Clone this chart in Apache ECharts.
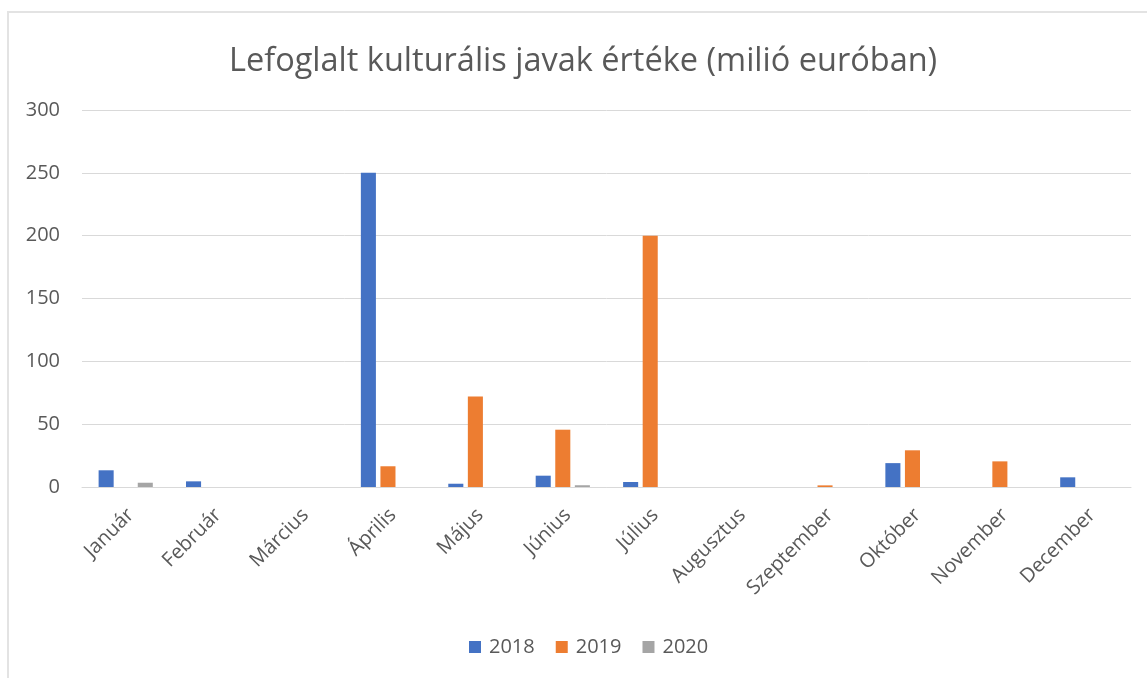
<!DOCTYPE html>
<html>
<head>
<meta charset="utf-8">
<script src="https://cdn.jsdelivr.net/npm/echarts@6/dist/echarts.min.js"></script>
<style>
  html, body { margin: 0; padding: 0; background: #ffffff; }
  #frame {
    position: absolute; left: 7px; top: 11px; width: 1150px; height: 680px;
    border-left: 2px solid #e3e3e3; border-top: 2px solid #e3e3e3;
  }
  #chart { position: absolute; left: 0; top: 0; width: 1147px; height: 678px; }
</style>
</head>
<body>
<div id="frame"></div>
<div id="chart"></div>
<script>
// Months shown on the category axis
const months = ['Január', 'Február', 'Március', 'Április', 'Május', 'Június',
  'Július', 'Augusztus', 'Szeptember', 'Október', 'November', 'December'];

// Seized cultural goods, million euros, per month
const values2018 = [13.3, 4.5, 0, 250, 2.6, 9, 4, 0, 0, 19, 0, 7.7];
const values2019 = [0, 0, 0, 16.5, 72, 45.6, 200, 0, 1.3, 29.2, 20.4, 0];
const values2020 = [3.4, 0, 0, 0, 0, 1.4, 0, 0, 0, 0, 0, 0];

const yTicks = { min: 0, max: 300, step: 50 };

const textColor = '#595959';
const fontFamily = '"Open Sans", "Noto Sans", sans-serif';

const chart = echarts.init(document.getElementById('chart'));

function barSeries(name, data, color) {
  return {
    name: name,
    type: 'bar',
    data: data.map(v => (v === 0 ? null : v)),
    itemStyle: { color: color },
    barGap: '30%',
    barCategoryGap: '38%'
  };
}

chart.setOption({
  animation: false,
  textStyle: { fontFamily: fontFamily },
  title: {
    text: 'Lefoglalt kulturális javak értéke (milió euróban)',
    left: 224,
    top: 40,
    textStyle: { color: textColor, fontSize: 32.5, fontWeight: 'normal', fontFamily: fontFamily }
  },
  legend: {
    bottom: 16,
    left: 464,
    itemWidth: 12,
    itemHeight: 12,
    itemGap: 21,
    icon: 'rect',
    textStyle: { color: textColor, fontSize: 20, fontFamily: fontFamily, padding: [0, 0, 0, 3] },
    data: ['2018', '2019', '2020']
  },
  grid: { left: 82, right: 16, top: 110, bottom: 191, containLabel: false },
  xAxis: {
    type: 'category',
    data: months,
    axisLine: { lineStyle: { color: '#d9d9d9', width: 1 } },
    axisTick: { show: false },
    axisLabel: {
      rotate: 45,
      color: textColor,
      fontSize: 20,
      lineHeight: 14,
      margin: 20,
      verticalAlign: 'top',
      interval: 0,
      fontFamily: fontFamily
    }
  },
  yAxis: {
    type: 'value',
    min: yTicks.min,
    max: yTicks.max,
    interval: yTicks.step,
    axisLine: { show: false },
    axisTick: { show: false },
    axisLabel: { color: textColor, fontSize: 20, margin: 22, fontFamily: fontFamily },
    splitLine: { lineStyle: { color: '#d9d9d9', width: 1 } }
  },
  series: [
    barSeries('2018', values2018, '#4472c4'),
    barSeries('2019', values2019, '#ed7d31'),
    barSeries('2020', values2020, '#a5a5a5')
  ]
});
</script>
</body>
</html>
